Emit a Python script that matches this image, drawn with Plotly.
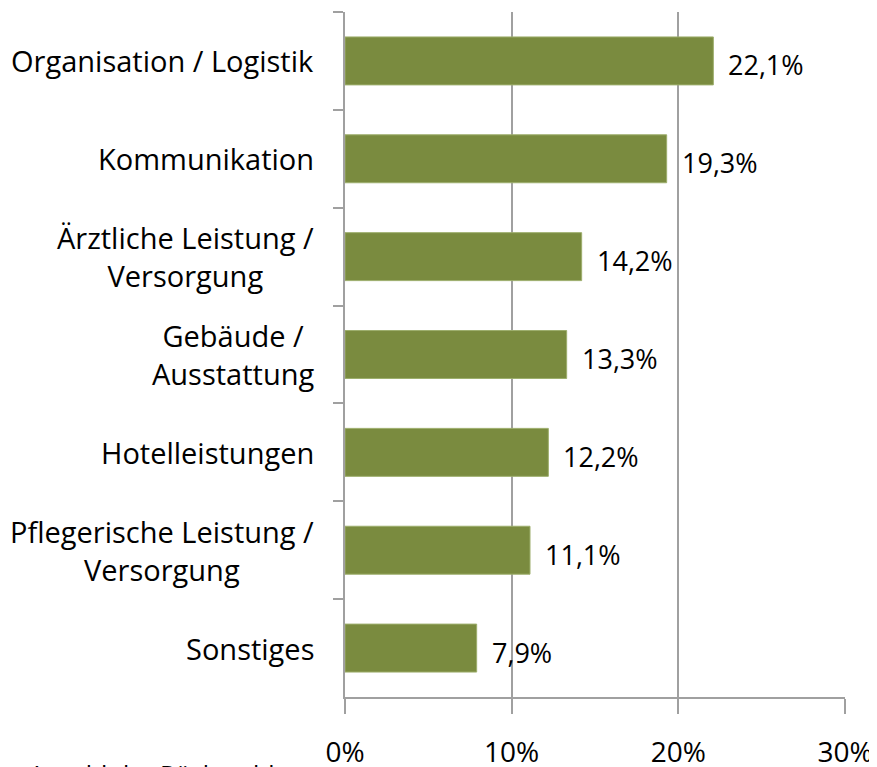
import plotly.graph_objects as go

categories = [
    "Organisation / Logistik",
    "Kommunikation",
    "Ärztliche Leistung /<br>Versorgung",
    "Gebäude /<br>Ausstattung",
    "Hotelleistungen",
    "Pflegerische Leistung /<br>Versorgung",
    "Sonstiges",
]
values = [22.1, 19.3, 14.2, 13.3, 12.2, 11.1, 7.9]
x_ticks = [0, 10, 20, 30]
x_tick_labels = ["0%", "10%", "20%", "30%"]
footnote = "Anzahl der Rückmeldungen"

FONT = "Open Sans"
BAR = "#7A8B3F"
AXIS = "#A0A0A0"

fig = go.Figure()
fig.add_trace(go.Bar(
    x=values, y=categories, orientation="h",
    marker=dict(color=BAR, line=dict(color="#9DAE6C", width=1)),
    width=0.49, hoverinfo="skip",
))

annotations = []
for c in categories:
    annotations.append(dict(
        x=0, xref="paper", y=c, yref="y", xanchor="right", yanchor="middle",
        xshift=-29, text=c, showarrow=False, align="center",
        font=dict(family=FONT, size=29, color="#000"),
    ))
for c, v in zip(categories, values):
    annotations.append(dict(
        x=v, xref="x", y=c, yref="y", xanchor="left", yanchor="middle",
        xshift=13, yshift=-4, text=f"{v:.1f}".replace(".", ",") + "%",
        showarrow=False, font=dict(family=FONT, size=27, color="#000"),
    ))
annotations.append(dict(
    x=0, xref="paper", y=0, yref="paper", xanchor="left", yanchor="top",
    xshift=-318, yshift=-58, text=footnote, showarrow=False,
    font=dict(family=FONT, size=25, color="#000"),
))

fig.update_layout(
    width=877, height=767,
    margin=dict(l=337, r=40, t=4, b=78),
    paper_bgcolor="white", plot_bgcolor="white",
    showlegend=False, bargap=0.5,
    annotations=annotations,
    xaxis=dict(
        range=[0, 30], tickvals=x_ticks, ticktext=x_tick_labels,
        showgrid=True, gridcolor=AXIS, gridwidth=2, zeroline=False,
        showline=True, linecolor=AXIS, linewidth=2,
        ticks="outside", ticklen=15, tickcolor=AXIS, tickwidth=2,
        ticklabelstandoff=14, automargin=False,
        tickfont=dict(family=FONT, size=28, color="#000"),
        fixedrange=True,
    ),
    yaxis=dict(
        type="category", categoryorder="array", categoryarray=categories,
        autorange="reversed", showticklabels=False, automargin=False,
        showline=True, linecolor=AXIS, linewidth=2,
        ticks="outside", ticklen=10, tickcolor=AXIS, tickwidth=2,
        tickson="boundaries", showgrid=False, zeroline=False,
        fixedrange=True,
    ),
)

fig.write_html("out.html", config={"displayModeBar": False})
